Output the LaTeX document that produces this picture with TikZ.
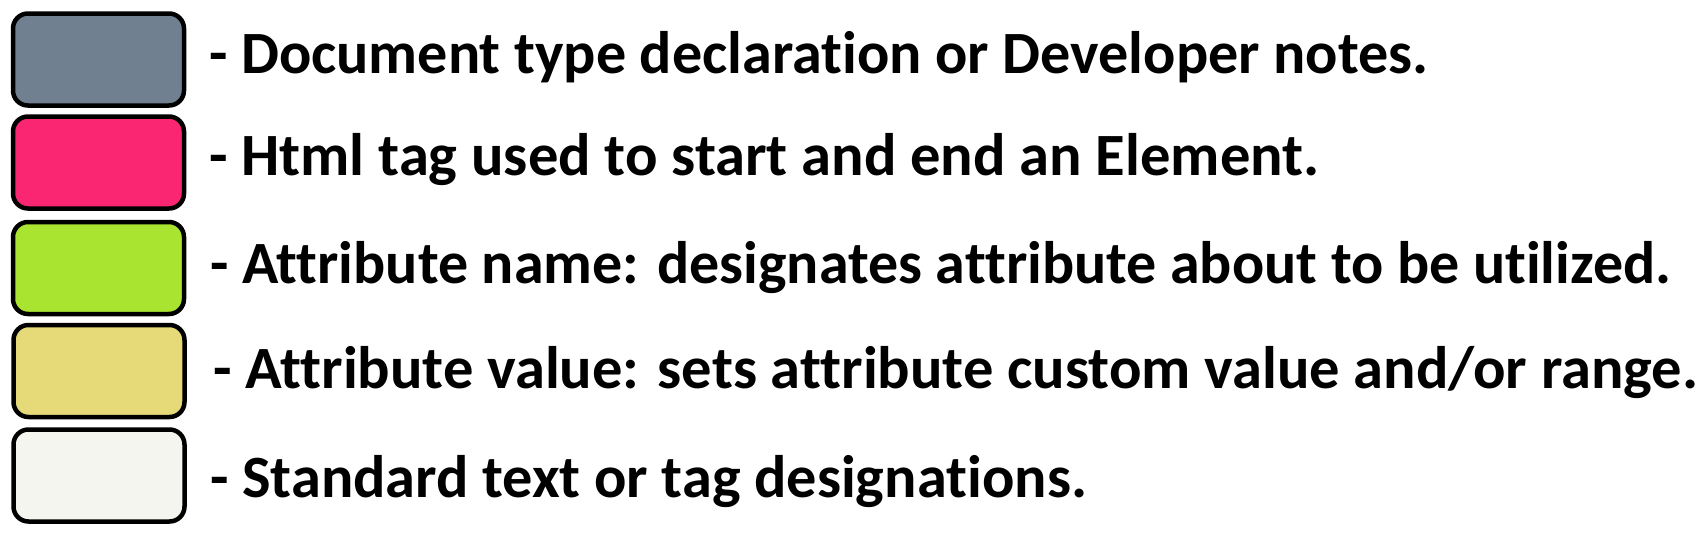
\documentclass[tikz,border=0pt]{standalone}
\usepackage{fontspec}
\setmainfont{Carlito}[Ligatures=NoCommon]
\usepackage{tikz}
\usetikzlibrary{positioning}

\definecolor{notegray}{HTML}{708090}
\definecolor{tagpink}{HTML}{FA2672}
\definecolor{namegreen}{HTML}{A8E430}
\definecolor{valkhaki}{HTML}{E6DA78}
\definecolor{textwhite}{HTML}{F5F5F0}

\begin{document}
\begin{tikzpicture}[
    x=1pt, y=-1pt,
    swatch/.style={draw=black, line width=4.5pt, rounded corners=15pt, minimum width=171pt, minimum height=92pt, inner sep=0pt},
    legtext/.style={anchor=base west, inner sep=0pt, font=\fontsize{60}{66}\selectfont\bfseries}
]
\useasboundingbox (0,0) rectangle (1701,539);

\node[swatch, fill=notegray] (docnote) at (98.5,59.5) {};
\node[swatch, fill=tagpink] (htmltag) at (98.5,162.5) {};
\node[swatch, fill=namegreen] (attrname) at (98.5,268) {};
\node[swatch, fill=valkhaki] (attrval) at (99,371) {};
\node[swatch, fill=textwhite] (stdtext) at (99,475.5) {};

\node[legtext, xscale=1.003] (docnotetxt) at (209,73) {- Document type declaration or Developer notes.};
\node[legtext, xscale=1.01] (htmltagtxt) at (209,175) {- Html tag used to start and end an Element.};
\node[legtext] (attrnametxt) at (210,283) {- Attribute name: designates attribute about to be utilized.};
\node[legtext, xscale=1.009] (attrvaltxt) at (213,388) {- Attribute value: sets attribute custom value and/or range.};
\node[legtext, xscale=1.006] (stdtexttxt) at (210,497) {- Standard text or tag designations.};

\end{tikzpicture}
\end{document}
